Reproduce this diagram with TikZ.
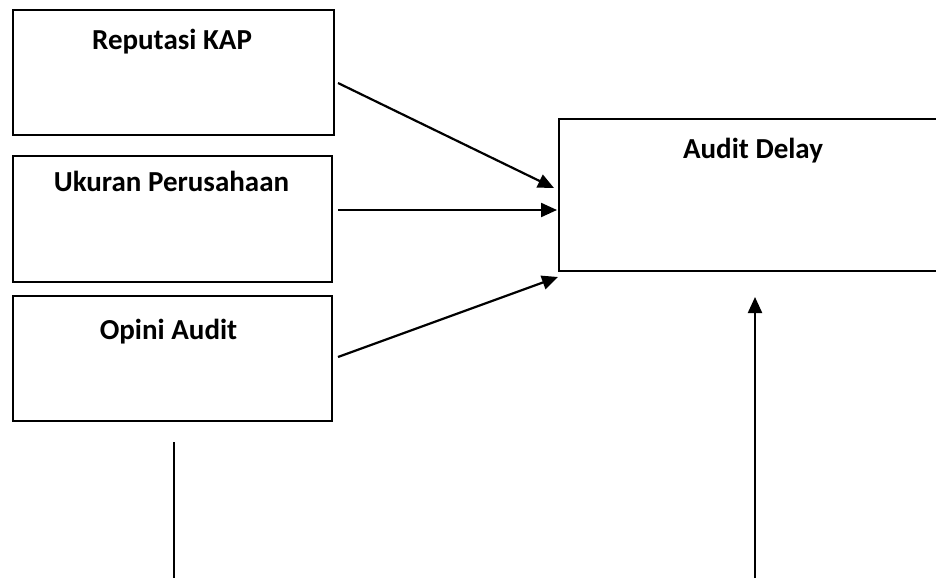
\documentclass[tikz,border=0pt]{standalone}
\usepackage{fontspec}
\setmainfont{Carlito}
\usetikzlibrary{arrows.meta}

\tikzset{
  varbox/.style={draw, line width=2.2pt, inner sep=0pt, outer sep=0pt},
  vartext/.style={anchor=base, inner sep=0pt, font=\fontsize{29}{34}\selectfont\bfseries},
  link/.style={line width=2.2pt, -{Triangle[length=16pt,width=14pt]}}
}

\begin{document}
\begin{tikzpicture}[x=1pt, y=-1pt]
\useasboundingbox (0,0) rectangle (936,578);
\clip (0,0) rectangle (936,578);

% variabel independen
\node[varbox, minimum width=321pt, minimum height=125pt] (rep) at (173.5,72.5) {};
\node[varbox, minimum width=319pt, minimum height=126pt] (ukr) at (172.5,219) {};
\node[varbox, minimum width=319pt, minimum height=125pt] (opn) at (172.5,358.5) {};
\node[vartext] (reptext) at (172,50) {Reputasi KAP};
\node[vartext] (ukrtext) at (171.5,191) {Ukuran Perusahaan};
\node[vartext] (opntext) at (168.5,339) {Opini Audit};

% variabel dependen
\node[varbox, minimum width=391pt, minimum height=152pt] (adl) at (754.5,195) {};
\node[vartext] (adltext) at (753,158) {Audit Delay};

% ujung panah
\coordinate (rep-out) at (338,83);
\coordinate (ukr-out) at (338,210);
\coordinate (opn-out) at (338,357);
\coordinate (adl-in1) at (554,188);
\coordinate (adl-in2) at (557,210);
\coordinate (adl-in3) at (558,277);
\coordinate (mod-top) at (174,442);
\coordinate (mod-bot) at (174,578);
\coordinate (ctl-top) at (755,297);
\coordinate (ctl-bot) at (755,578);

\draw[link] (rep-out) -- (adl-in1);
\draw[link] (ukr-out) -- (adl-in2);
\draw[link] (opn-out) -- (adl-in3);
\draw[line width=2.2pt] (mod-top) -- (mod-bot);
\draw[link] (ctl-bot) -- (ctl-top);
\end{tikzpicture}
\end{document}
